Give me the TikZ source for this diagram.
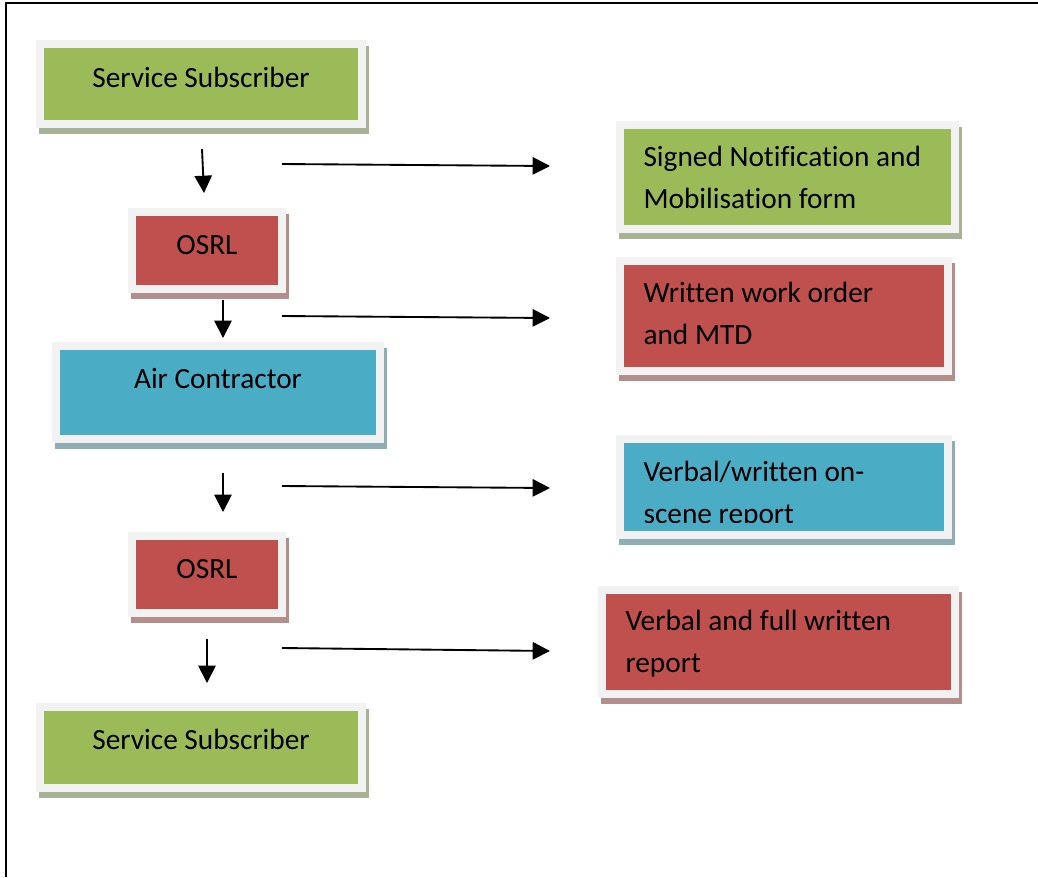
\documentclass[tikz,border=0pt]{standalone}
\usepackage{fontspec}
\setmainfont[Ligatures=NoCommon]{Carlito}
\usetikzlibrary{arrows.meta}
\definecolor{framegray}{HTML}{F2F2F2}
\definecolor{cgreen}{HTML}{9BBB59}
\definecolor{cred}{HTML}{C0504D}
\definecolor{cblue}{HTML}{4BACC6}
\definecolor{sgreen}{HTML}{A8B396}
\definecolor{sred}{HTML}{B48E8D}
\definecolor{sblue}{HTML}{90ACB4}
\tikzset{
  framebox/.style={rectangle, fill=framegray, draw=none, inner sep=0pt, outer sep=0pt},
  lbl/.style={inner sep=0pt, font=\fontsize{11pt}{15.4pt}\selectfont, text=black},
  mlbl/.style={lbl, align=left, anchor=base west},
  flowarrow/.style={line width=0.7pt, -{Triangle[width=6.5pt,length=6.5pt]}},
}
\newcommand\flowbox[7]{%
  \fill[#7] (#2+3,#3+6) rectangle (#4+3,#5+6);
  \node[framebox, minimum width={(#4-#2)*0.375pt}, minimum height={(#5-#3)*0.375pt}, anchor=north west] (#1) at (#2,#3) {};
  \fill[#6] ([shift={(8,8)}]#1.north west) rectangle ([shift={(-8,-8)}]#1.south east);
}
\begin{document}
\begin{tikzpicture}[x=0.375pt,y=-0.375pt]
\useasboundingbox (0,0) rectangle (1038,877);
\fill[white] (0,0) rectangle (1038,877);
% page frame
\draw[line width=0.9pt] (6,877) -- (6,3) -- (1038,3);
% left column
\flowbox{ss1}{36}{40}{366}{128}{cgreen}{sgreen}
\node[lbl, anchor=base] (tss1) at (201,87) {Service Subscriber};
\flowbox{osrl1}{128}{208}{286}{293}{cred}{sred}
\node[lbl, anchor=base] (tosrl1) at (207,254) {OSRL};
\flowbox{air}{52}{342}{384}{443}{cblue}{sblue}
\node[lbl, anchor=base] (tair) at (218,388) {Air Contractor};
\flowbox{osrl2}{128}{532}{286}{617}{cred}{sred}
\node[lbl, anchor=base] (tosrl2) at (207,578) {OSRL};
\flowbox{ss2}{36}{703}{366}{792}{cgreen}{sgreen}
\node[lbl, anchor=base] (tss2) at (201,749) {Service Subscriber};
% right column (base anchor = baseline of the last line)
\flowbox{r1}{616}{121}{959}{233}{cgreen}{sgreen}
\node[mlbl] (tr1) at (643,208) {Signed Notification and\\Mobilisation form};
\flowbox{r2}{616}{257}{952}{375}{cred}{sred}
\node[mlbl] (tr2) at (643,344) {Written work order\\and MTD};
\flowbox{r3}{616}{435}{952}{539}{cblue}{sblue}
\begin{scope}
\clip (616,435) rectangle (952,522);
\node[mlbl] (tr3) at (643,523) {Verbal/written on-\\scene report};
\end{scope}
\flowbox{r4}{598}{586}{959}{698}{cred}{sred}
\node[mlbl] (tr4) at (625,672) {Verbal and full written\\report};
% arrow end points
\coordinate (v1s) at (202,149); \coordinate (v1e) at (204,193);
\coordinate (v2s) at (223,300); \coordinate (v2e) at (223,338);
\coordinate (v3s) at (223,473); \coordinate (v3e) at (223,512);
\coordinate (v4s) at (207,639); \coordinate (v4e) at (207,683);
\coordinate (h1s) at (282,164); \coordinate (h1e) at (550,166);
\coordinate (h2s) at (282,316); \coordinate (h2e) at (550,318);
\coordinate (h3s) at (282,486); \coordinate (h3e) at (550,488);
\coordinate (h4s) at (282,648); \coordinate (h4e) at (550,651);
\foreach \a in {v1,v2,v3,v4,h1,h2,h3,h4}{
  \draw[flowarrow] (\a s) -- (\a e);
}
\end{tikzpicture}
\end{document}
